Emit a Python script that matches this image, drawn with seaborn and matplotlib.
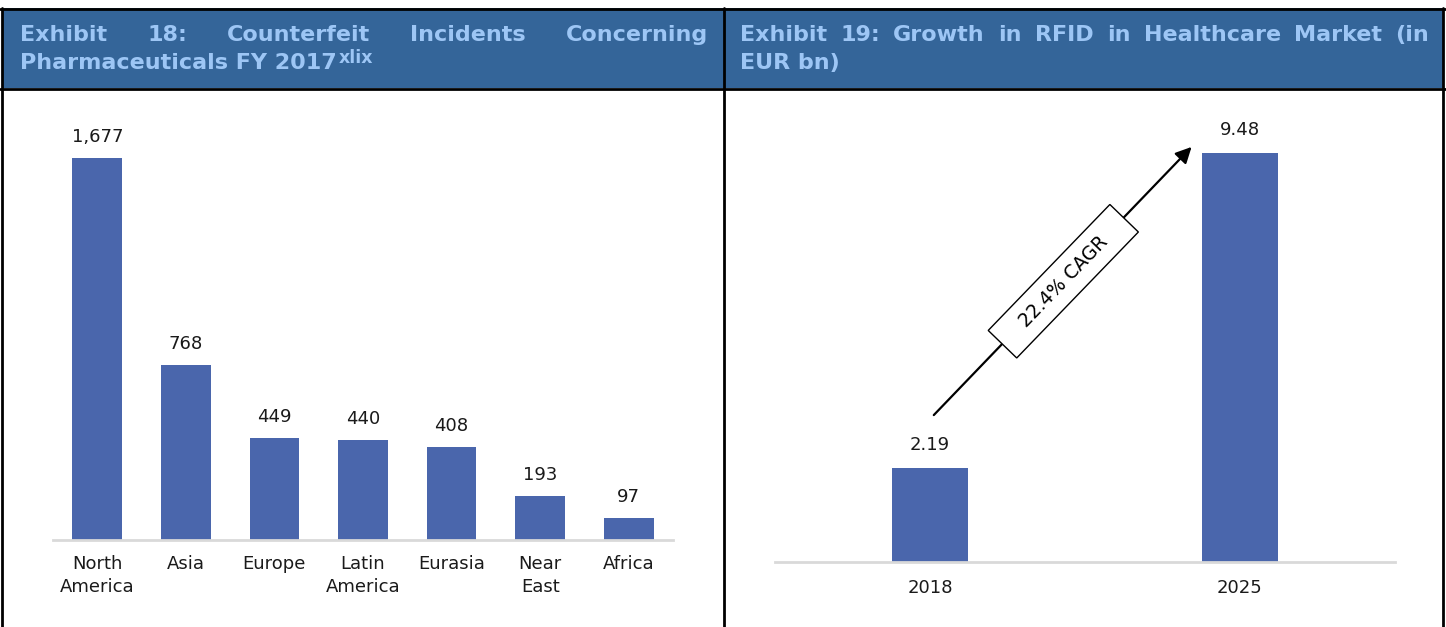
import matplotlib
matplotlib.use("Agg")
import matplotlib.pyplot as plt
from matplotlib.lines import Line2D
from matplotlib.patches import Rectangle
import seaborn as sns
import pandas as pd

# données
regions = ["North\nAmerica", "Asia", "Europe", "Latin\nAmerica", "Eurasia", "Near\nEast", "Africa"]
incidents = [1677, 768, 449, 440, 408, 193, 97]

years = ["2018", "2025"]
rfid_market = [2.19, 9.48]
cagr_label = "22.4% CAGR"

titre_gauche_l1 = ["Exhibit", "18:", "Counterfeit", "Incidents", "Concerning"]
titre_gauche_l2 = "Pharmaceuticals FY 2017"
titre_gauche_sup = "xlix"
titre_droite_l1 = ["Exhibit", "19:", "Growth", "in", "RFID", "in", "Healthcare", "Market", "(in"]
titre_droite_l2 = "EUR bn)"

W, H = 1446, 627
BAR = "#4A66AC"
HEAD = "#346599"
HEAD_TXT = "#9DC6F5"
TSIZE = 16

sns.set_theme(style="white")
plt.rcParams["font.family"] = ["DejaVu Sans"]

fig = plt.figure(figsize=(W / 100, H / 100), dpi=100)


def fx(x):
    return x / W


def fy(y):
    return 1 - y / H


# bandeau bleu + cadres noirs
fig.patches.append(Rectangle((fx(3), fy(88)), fx(1440), 80 / H, transform=fig.transFigure,
                             facecolor=HEAD, edgecolor="none", zorder=0))
for (x0, y0, x1, y1) in [(0, 8.5, W, 8.5), (0, 89, W, 89), (2, 8, 2, H), (724, 8, 724, H), (1443, 8, 1443, H)]:
    fig.lines.append(Line2D([fx(x0), fx(x1)], [fy(y0), fy(y1)], transform=fig.transFigure,
                            color="black", lw=2, zorder=5))

# graphe de gauche
df1 = pd.DataFrame({"region": regions, "incidents": incidents})
ax1 = fig.add_axes([fx(53), fy(540), 620 / W, 430 / H])
sns.barplot(data=df1, x="region", y="incidents", color=BAR, width=0.56, linewidth=0, saturation=1, ax=ax1)
ax1.set_ylim(0, 1888)
ax1.set_xlim(-0.5, len(regions) - 0.5)
for i, v in enumerate(incidents):
    ax1.annotate(f"{v:,}", (i, v), xytext=(0, 15), textcoords="offset points",
                 ha="center", va="center", fontsize=13, color="#1a1a1a")

# graphe de droite
df2 = pd.DataFrame({"year": years, "value": rfid_market})
ax2 = fig.add_axes([fx(775), fy(562), 620 / W, 452 / H])
sns.barplot(data=df2, x="year", y="value", color=BAR, width=0.245, linewidth=0, saturation=1, ax=ax2)
ax2.set_ylim(0, 10.48)
ax2.set_xlim(-0.5, 1.5)
for i, v in enumerate(rfid_market):
    ax2.annotate(f"{v:.2f}", (i, v), xytext=(0, 16.5), textcoords="offset points",
                 ha="center", va="center", fontsize=13, color="#1a1a1a")

# flèche CAGR
ax2.annotate("", xy=(0.85, 9.67), xytext=(0.006, 3.36),
             arrowprops=dict(arrowstyle="-|>", color="black", lw=1.6, mutation_scale=24))
ax2.text(0.43, 6.51, "   " + cagr_label + "   ", rotation=46, rotation_mode="anchor",
         ha="center", va="center", fontsize=13.5, color="black",
         bbox=dict(boxstyle="square,pad=0.55", facecolor="white", edgecolor="black", lw=1))

for ax in (ax1, ax2):
    ax.set_xlabel("")
    ax.set_ylabel("")
    ax.set_yticks([])
    for s in ["top", "left", "right"]:
        ax.spines[s].set_visible(False)
    ax.spines["bottom"].set_color("#D9D9D9")
    ax.spines["bottom"].set_linewidth(2)
    ax.tick_params(axis="x", length=0, labelsize=13, colors="#1a1a1a")
ax1.tick_params(axis="x", pad=11)
ax2.tick_params(axis="x", pad=12)
for lab in ax1.get_xticklabels():
    lab.set_linespacing(1.32)

# titres (justifiés comme dans le document)
fig.canvas.draw()
rend = fig.canvas.get_renderer()


def justify(words, x0, x1, y):
    txts = [fig.text(0, fy(y), w, fontsize=TSIZE, fontweight="bold", color=HEAD_TXT,
                     va="center", ha="left") for w in words]
    widths = [t.get_window_extent(rend).width for t in txts]
    gap = (x1 - x0 - sum(widths)) / (len(words) - 1)
    x = x0
    for t, w in zip(txts, widths):
        t.set_x(fx(x))
        x += w + gap


justify(titre_gauche_l1, 20, 708, 35)
t2 = fig.text(fx(20), fy(63), titre_gauche_l2, fontsize=TSIZE, fontweight="bold", color=HEAD_TXT,
              va="center", ha="left")
bb = t2.get_window_extent(rend)
fig.text(fx(20) + bb.width / W + 2 / W, fy(58), titre_gauche_sup, fontsize=12.5, fontweight="bold",
         color=HEAD_TXT, va="center", ha="left")

justify(titre_droite_l1, 740, 1429, 35)
fig.text(fx(740), fy(63), titre_droite_l2, fontsize=TSIZE, fontweight="bold", color=HEAD_TXT,
         va="center", ha="left")

fig.savefig("out.png", dpi=100)
